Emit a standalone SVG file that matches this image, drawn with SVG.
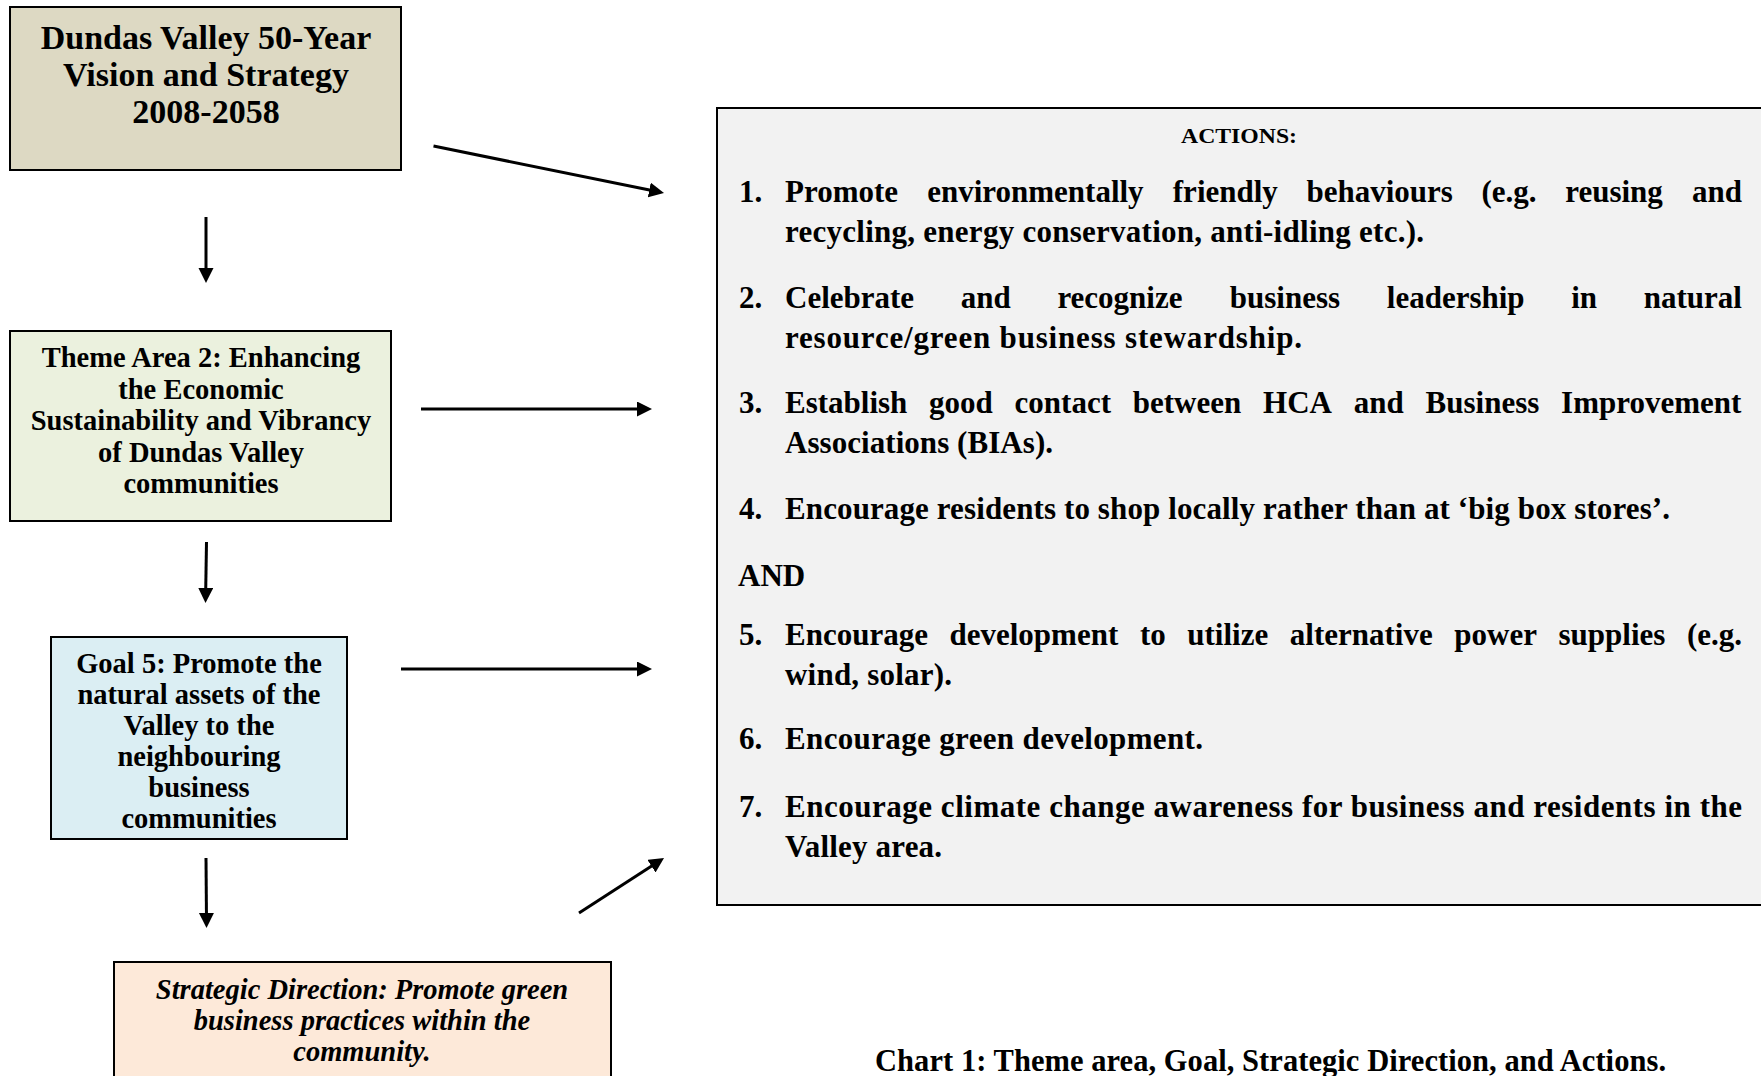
<svg xmlns="http://www.w3.org/2000/svg" width="1761" height="1076" viewBox="0 0 1761 1076">
<style>
  .box { stroke: #000; stroke-width: 2; }
  .t { font-family: "Liberation Serif", "Times New Roman", serif; font-weight: bold; fill: #000; }
  .c { text-anchor: middle; }
  .b1 { font-size: 34px; }
  .b2 { font-size: 28.5px; }
  .b4 { font-size: 28.5px; font-style: italic; }
  .li { font-size: 31px; }
  .hd { font-size: 22px; }
  .cap { font-size: 30.5px; }
  .conn { stroke: #000; stroke-width: 3; fill: none; marker-end: url(#ah); }
</style>
<defs>
  <marker id="ah" markerUnits="userSpaceOnUse" markerWidth="16" markerHeight="16" viewBox="0 0 16 16" refX="9" refY="7.5" orient="auto">
    <path d="M0,0 L15,7.5 L0,15 z" fill="#000"/>
  </marker>
</defs>
<rect width="1761" height="1076" fill="#fff"/>

<g id="node-vision">
  <rect class="box" x="10" y="7" width="391" height="163" fill="#ddd9c3"/>
  <text class="t c b1" x="206" y="49">Dundas Valley 50-Year</text>
  <text class="t c b1" x="206" y="86">Vision and Strategy</text>
  <text class="t c b1" x="206" y="123">2008-2058</text>
</g>

<g id="node-theme">
  <rect class="box" x="10" y="331" width="381" height="190" fill="#ebf1de"/>
  <text class="t c b2" x="201" y="367">Theme Area 2: Enhancing</text>
  <text class="t c b2" x="201" y="398.5">the Economic</text>
  <text class="t c b2" x="201" y="430">Sustainability and Vibrancy</text>
  <text class="t c b2" x="201" y="461.5">of Dundas Valley</text>
  <text class="t c b2" x="201" y="493">communities</text>
</g>

<g id="node-goal">
  <rect class="box" x="51" y="637" width="296" height="202" fill="#dbeef3"/>
  <text class="t c b2" x="199" y="673">Goal 5: Promote the</text>
  <text class="t c b2" x="199" y="704">natural assets of the</text>
  <text class="t c b2" x="199" y="735">Valley to the</text>
  <text class="t c b2" x="199" y="766">neighbouring</text>
  <text class="t c b2" x="199" y="797">business</text>
  <text class="t c b2" x="199" y="828">communities</text>
</g>

<g id="node-strategic">
  <rect class="box" x="114" y="962" width="497" height="130" fill="#fde9d9"/>
  <text class="t c b4" x="362" y="999">Strategic Direction: Promote green</text>
  <text class="t c b4" x="362" y="1030">business practices within the</text>
  <text class="t c b4" x="362" y="1061">community.</text>
</g>

<g id="node-actions">
  <rect class="box" x="717" y="108" width="1070" height="797" fill="#f2f2f2"/>
  <text class="t c hd" x="1239" y="143" textLength="116" lengthAdjust="spacingAndGlyphs">ACTIONS:</text>

  <text class="t li" x="739" y="202">1.</text>
  <text class="t li" y="202"><tspan x="785">Promote</tspan><tspan x="927.2">environmentally</tspan><tspan x="1172.8">friendly</tspan><tspan x="1306.5">behaviours</tspan><tspan x="1481.5">(e.g.</tspan><tspan x="1565.2">reusing</tspan><tspan x="1692">and</tspan></text>
  <text class="t li" x="785" y="241.5" textLength="639" lengthAdjust="spacing">recycling, energy conservation, anti-idling etc.).</text>

  <text class="t li" x="739" y="308">2.</text>
  <text class="t li" y="308"><tspan x="785">Celebrate</tspan><tspan x="960.8">and</tspan><tspan x="1057.4">recognize</tspan><tspan x="1229.8">business</tspan><tspan x="1386.8">leadership</tspan><tspan x="1571.2">in</tspan><tspan x="1643.8">natural</tspan></text>
  <text class="t li" x="785" y="347.5" textLength="517" lengthAdjust="spacing">resource/green business stewardship.</text>

  <text class="t li" x="739" y="413">3.</text>
  <text class="t li" y="413"><tspan x="785">Establish</tspan><tspan x="929.1">good</tspan><tspan x="1014.6">contact</tspan><tspan x="1132.8">between</tspan><tspan x="1263.1">HCA</tspan><tspan x="1353.8">and</tspan><tspan x="1425.6">Business</tspan><tspan x="1561.1">Improvement</tspan></text>
  <text class="t li" x="785" y="452.5" textLength="268" lengthAdjust="spacing">Associations (BIAs).</text>

  <text class="t li" x="739" y="519">4.</text>
  <text class="t li" x="785" y="519" textLength="885" lengthAdjust="spacing">Encourage residents to shop locally rather than at ‘big box stores’.</text>

  <text class="t li" x="738" y="586">AND</text>

  <text class="t li" x="739" y="645">5.</text>
  <text class="t li" y="645"><tspan x="785">Encourage</tspan><tspan x="949.5">development</tspan><tspan x="1139.9">to</tspan><tspan x="1187.3">utilize</tspan><tspan x="1289.8">alternative</tspan><tspan x="1454.3">power</tspan><tspan x="1558.5">supplies</tspan><tspan x="1686.9">(e.g.</tspan></text>
  <text class="t li" x="785" y="684.5" textLength="167" lengthAdjust="spacing">wind, solar).</text>

  <text class="t li" x="739" y="749">6.</text>
  <text class="t li" x="785" y="749" textLength="418" lengthAdjust="spacing">Encourage green development.</text>

  <text class="t li" x="739" y="817">7.</text>
  <text class="t li" x="785" y="817" textLength="957" lengthAdjust="spacing">Encourage climate change awareness for business and residents in the</text>
  <text class="t li" x="785" y="856.5" textLength="157" lengthAdjust="spacing">Valley area.</text>
</g>

<g id="caption">
  <text class="t cap" x="875" y="1071" textLength="791" lengthAdjust="spacing">Chart 1: Theme area, Goal, Strategic Direction, and Actions.</text>
</g>

<g id="connectors">
  <line class="conn" x1="206" y1="217" x2="206" y2="277"/>
  <line class="conn" x1="206.5" y1="542" x2="205.6" y2="597"/>
  <line class="conn" x1="206" y1="858" x2="206.5" y2="922"/>
  <line class="conn" x1="433.5" y1="146" x2="658.1" y2="191.8"/>
  <line class="conn" x1="421" y1="409" x2="646" y2="409"/>
  <line class="conn" x1="401" y1="669" x2="646" y2="669"/>
  <line class="conn" x1="579" y1="913" x2="659" y2="861.2"/>
</g>
</svg>
